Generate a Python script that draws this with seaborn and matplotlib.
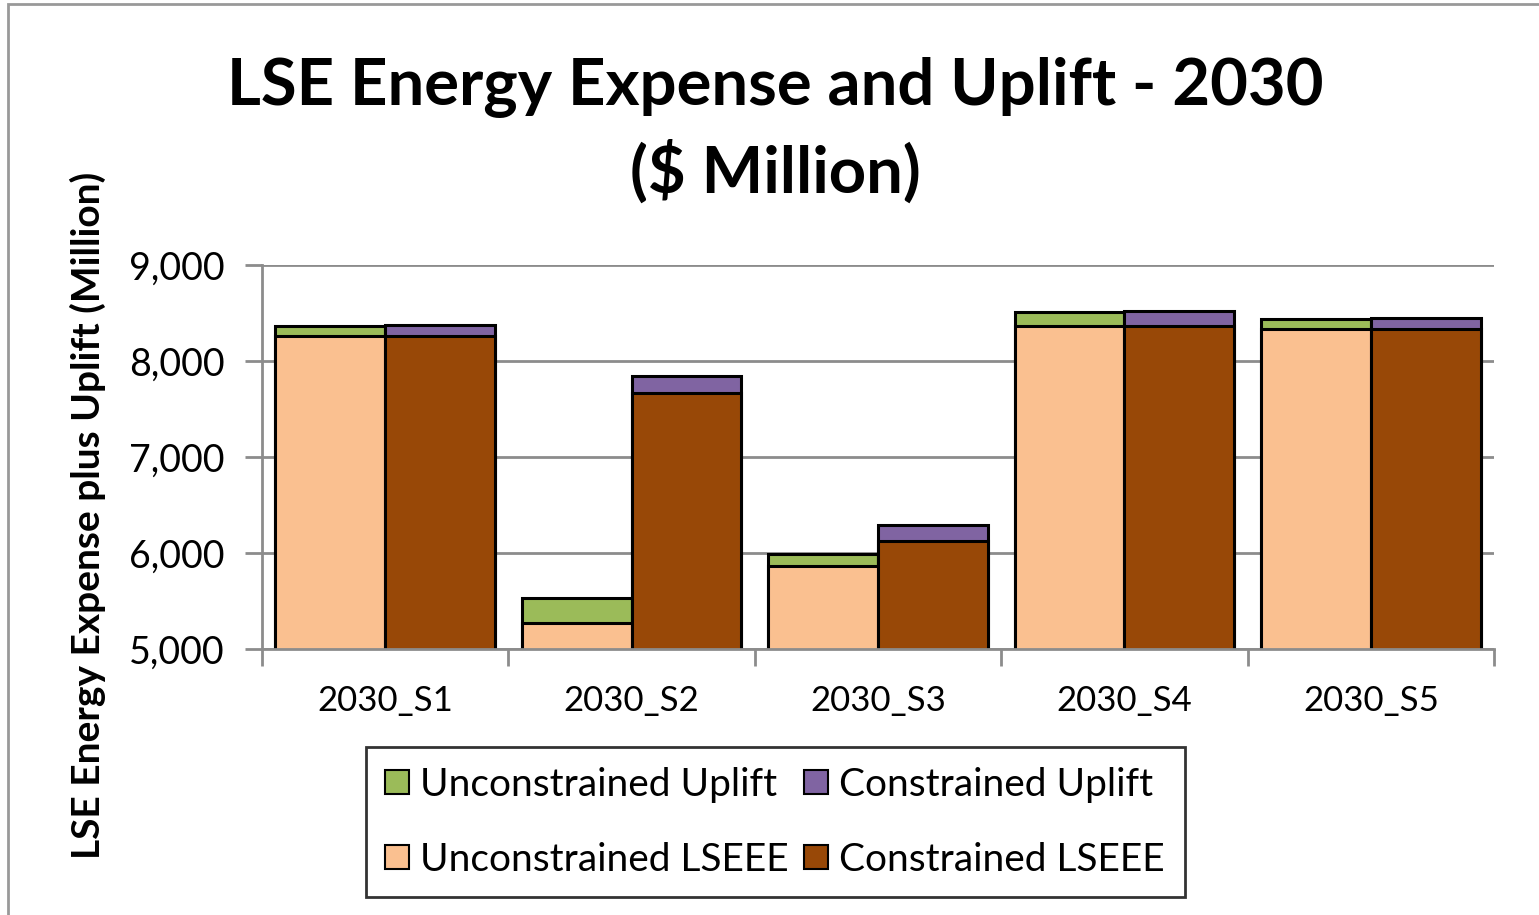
import pandas as pd
import seaborn as sns
import matplotlib
matplotlib.use("Agg")
from matplotlib import pyplot as plt
from matplotlib.patches import Patch, Rectangle

scenarios = ["2030_S1", "2030_S2", "2030_S3", "2030_S4", "2030_S5"]
unc_lseee = [8260, 5271, 5867, 8364, 8330]
unc_uplift = [104, 260, 121, 149, 107]
con_lseee = [8260, 7664, 6127, 8364, 8330]
con_uplift = [115, 180, 166, 159, 121]

GREEN = "#9BBB59"
PURPLE = "#8064A2"
PEACH = "#FAC090"
BROWN = "#984807"
GRID = "#8c8c8c"

FONT = ["Lato", "DejaVu Sans"]


def build_frame():
    """
    Long table: one row per scenario and case
    :return: DataFrame
    """
    rows = []
    for i, sc in enumerate(scenarios):
        rows.append((sc, "Unconstrained", unc_lseee[i], unc_uplift[i]))
        rows.append((sc, "Constrained", con_lseee[i], con_uplift[i]))
    df = pd.DataFrame(rows, columns=["scenario", "case", "lseee", "uplift"])
    df["total"] = df["lseee"] + df["uplift"]
    return df


df = build_frame()

sns.set_style("white")
plt.rcParams["font.family"] = FONT
plt.rcParams["text.color"] = "black"
plt.rcParams["xtick.color"] = "black"
plt.rcParams["ytick.color"] = "black"

fig = plt.figure(figsize=(15.39, 9.15), dpi=100)
ax = fig.add_axes([0.1702, 0.2907, 0.8006, 0.4197])

bar_kw = dict(x="scenario", y="total", hue="case", order=scenarios,
              hue_order=["Unconstrained", "Constrained"], width=0.89,
              gap=0, edgecolor="black", linewidth=2.2, saturation=1,
              legend=False, ax=ax, errorbar=None)
# uplift sits on top of LSEEE: draw totals first, then the LSEEE part
sns.barplot(data=df, palette=[GREEN, PURPLE], **bar_kw)
bar_kw["y"] = "lseee"
sns.barplot(data=df, palette=[PEACH, BROWN], **bar_kw)

ax.set_ylim(5000, 9000)
ax.set_xlim(-0.5, 4.5)
ax.set_yticks(range(5000, 9001, 1000))
ax.set_yticklabels(["{:,}".format(v) for v in range(5000, 9001, 1000)])
ax.yaxis.grid(True, color=GRID, linewidth=2)
ax.set_axisbelow(True)
for side in ["top", "right"]:
    ax.spines[side].set_visible(False)
for side in ["left", "bottom"]:
    ax.spines[side].set_color(GRID)
    ax.spines[side].set_linewidth(2)

ax.tick_params(axis="y", left=True, length=12, width=2, color=GRID,
               labelsize=27, pad=15, direction="out")
ax.tick_params(axis="x", which="major", length=0, labelsize=25, pad=26)
ax.set_xticks([i + 0.5 for i in range(-1, 5)], minor=True)
ax.tick_params(axis="x", which="minor", bottom=True, length=12, width=2,
               color=GRID, direction="out")
ax.set_xlabel("")
ax.set_ylabel("")

fig.text(0.5035, 0.904, "LSE Energy Expense and Uplift - 2030",
         ha="center", va="center", fontsize=47, fontweight="bold")
fig.text(0.5035, 0.812, "($ Million)", ha="center", va="center",
         fontsize=47, fontweight="bold")
fig.text(0.057, 0.437, "LSE Energy Expense plus Uplift (Million)",
         rotation=90, ha="center", va="center", fontsize=28,
         fontweight="bold")

handles = [
    Patch(facecolor=GREEN, edgecolor="black", linewidth=1.5),
    Patch(facecolor=PEACH, edgecolor="black", linewidth=1.5),
    Patch(facecolor=PURPLE, edgecolor="black", linewidth=1.5),
    Patch(facecolor=BROWN, edgecolor="black", linewidth=1.5),
]
labels = ["Unconstrained Uplift", "Unconstrained LSEEE",
          "Constrained Uplift", "Constrained LSEEE"]
leg = fig.legend(handles, labels, ncol=2, loc="center",
                 bbox_to_anchor=(0.5037, 0.1015), fontsize=28,
                 frameon=True, fancybox=False, edgecolor="black",
                 handlelength=0.6, handleheight=0.6, handletextpad=0.3,
                 columnspacing=0.4, labelspacing=1.0, borderpad=0.5)
leg.get_frame().set_linewidth(2)

fig.add_artist(Rectangle((0.0052, -0.1), 1.1, 1.0956, transform=fig.transFigure,
                         fill=False, edgecolor="#999999", linewidth=2))

fig.savefig("out.png", dpi=100)
